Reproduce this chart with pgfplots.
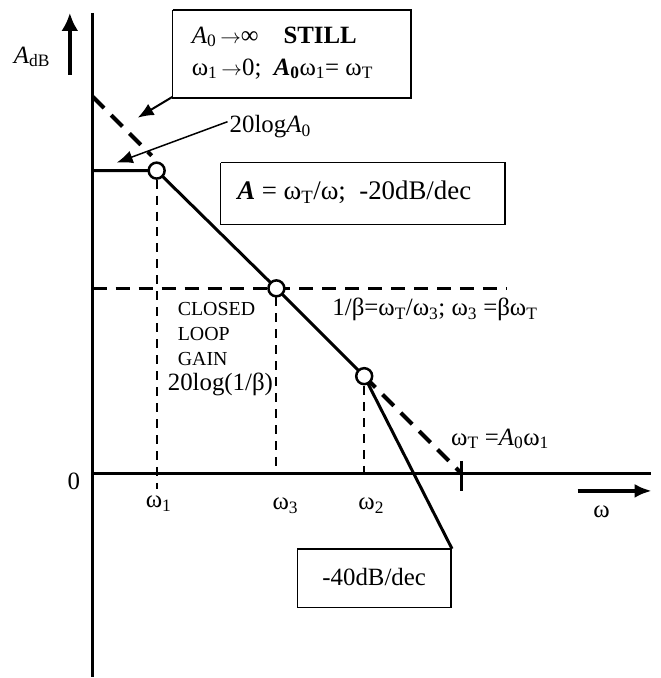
\documentclass[border=0pt]{standalone}
\usepackage{fontspec}
\setmainfont{Liberation Serif}
\usepackage{pgfplots}
\pgfplotsset{compat=1.18}
\usetikzlibrary{arrows.meta}
\tikzset{lbl/.style={font=\fontsize{25}{28}\selectfont, inner sep=0pt},
         big/.style={font=\fontsize{27}{30}\selectfont, inner sep=0pt},
         sml/.style={font=\fontsize{20}{24}\selectfont, inner sep=0pt}}
\newcommand{\arr}{{\fontsize{21}{21}\selectfont$\rightarrow$}}
\begin{document}
\begin{tikzpicture}
\begin{axis}[x=1bp, y=1bp, xmin=-93, xmax=569, ymin=-203, ymax=475,
  hide axis, clip=false]
% frame extent (invisible)
\addplot[draw=none] coordinates {(-93,-203) (569,475)};
% axes
\addplot[black, line width=3bp] coordinates {(0,462) (0,-203)};
\addplot[black, line width=3bp] coordinates {(0,0) (559,0)};
\addplot[black, line width=3bp] coordinates {(370,13) (370,-17)};
\addplot[black, line width=4bp, -{Latex[length=18bp,width=17bp]}] coordinates {(-23,400) (-23,462)};
\addplot[black, line width=4bp, -{Latex[length=17bp,width=14bp]}] coordinates {(486,-17) (560,-17)};
% dashed verticals
\addplot[black, line width=2bp, dash pattern=on 9bp off 7bp] coordinates {(64,295) (64,-15)};
\addplot[black, line width=2bp, dash pattern=on 9bp off 7bp] coordinates {(184,177) (184,0)};
\addplot[black, line width=2bp, dash pattern=on 9bp off 7bp] coordinates {(272,88) (272,-7)};
% dashed horizontal (closed loop gain)
\addplot[black, line width=3bp, dash pattern=on 14bp off 9bp] coordinates {(0,186) (415,186)};
% dashed extensions of -20 dB/dec line
\addplot[black, line width=4bp, dash pattern=on 16bp off 10bp] coordinates {(0,378) (59,319)};
\addplot[black, line width=4bp, dash pattern=on 16bp off 10bp] coordinates {(272,98) (368,2)};
% main response
\addplot[black, line width=3bp] coordinates {(0,304) (64,304) (184,186) (272,98) (360,-75)};
% circles
\addplot[only marks, mark=*, mark size=8bp, mark options={fill=white, draw=black, line width=2.5bp}] coordinates {(64,304) (184,186) (272,98)};
% boxes
\addplot[black, line width=1.5bp] coordinates {(80,465) (319,465) (319,377) (80,377) (80,465)};
\addplot[black, line width=1.5bp] coordinates {(128,312) (413,312) (413,250) (128,250) (128,312)};
\addplot[black, line width=1.5bp] coordinates {(205,-75) (359,-75) (359,-134) (205,-134) (205,-75)};
% annotation arrows
\addplot[black, line width=2bp, -{Latex[length=16bp,width=13bp]}] coordinates {(80,378) (45,357)};
\addplot[black, line width=1.5bp, -{Latex[length=16bp,width=13bp]}] coordinates {(135,353) (24,312)};
% texts
\node[lbl] at (axis cs:-61,418) {\textit{A}\textsubscript{dB}};
\node[lbl] at (axis cs:-19,-7) {0};
\node[lbl] at (axis cs:66,-30) {ω\textsubscript{1}};
\node[lbl] at (axis cs:193,-32) {ω\textsubscript{3}};
\node[lbl] at (axis cs:279,-32) {ω\textsubscript{2}};
\node[lbl] at (axis cs:510,-38) {ω};
\node[lbl, anchor=west] at (axis cs:99,438) {\textit{A}\textsubscript{0}\,\arr∞\quad\textbf{STILL}};
\node[lbl, anchor=west] at (axis cs:99,406) {ω\textsubscript{1}\,\arr0;\enspace\textbf{\textit{A}\textsubscript{0}}ω\textsubscript{1}= ω\textsubscript{T}};
\node[lbl, anchor=west] at (axis cs:137,348) {20log\textit{A}\textsubscript{0}};
\node[big] at (axis cs:262,282) {\textbf{\textit{A}} = ω\textsubscript{T}/ω;\enspace -20dB/dec};
\node[lbl] at (axis cs:282,-103) {-40dB/dec};
\node[sml, anchor=west] at (axis cs:85,165) {CLOSED};
\node[sml, anchor=west] at (axis cs:85,140) {LOOP};
\node[sml, anchor=west] at (axis cs:85,115) {GAIN};
\node[lbl, anchor=west] at (axis cs:75,90) {20log(1/β)};
\node[lbl, anchor=west] at (axis cs:240,165) {1/β=ω\textsubscript{T}/ω\textsubscript{3}; ω\textsubscript{3} =βω\textsubscript{T}};
\node[lbl, anchor=west] at (axis cs:359,35) {ω\textsubscript{T} =\textit{A}\textsubscript{0}ω\textsubscript{1}};
\end{axis}
\end{tikzpicture}
\end{document}
